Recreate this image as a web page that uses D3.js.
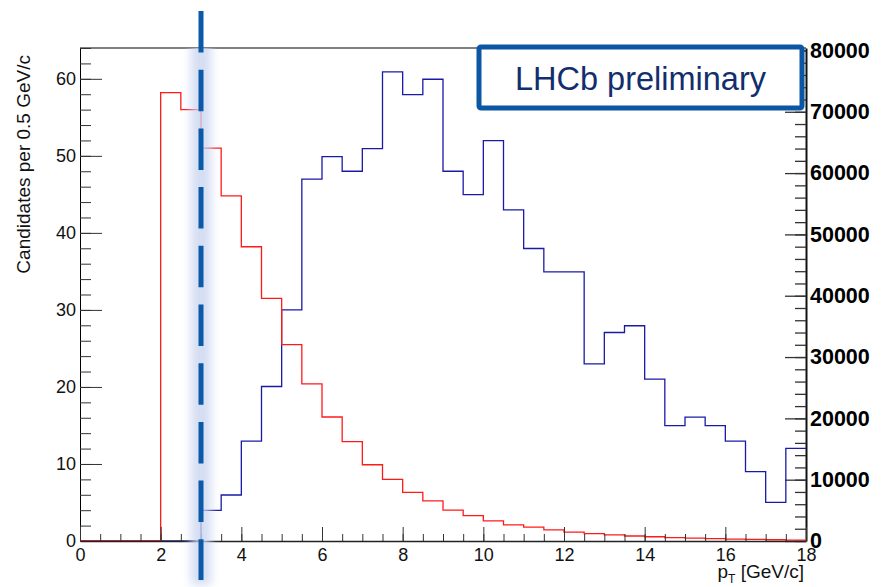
<!DOCTYPE html>
<html>
<head>
<meta charset="utf-8">
<script src="https://cdn.jsdelivr.net/npm/d3@7"></script>
<style>
  body { margin: 0; background: #fff; }
  svg { display: block; font-family: "Liberation Sans", Arial, Helvetica, sans-serif; }
</style>
</head>
<body>
<div id="chart"></div>
<script>
// bin lower edges, 0.5 GeV/c wide from 0 to 18
const binEdges = [0, 0.5, 1, 1.5, 2, 2.5, 3, 3.5, 4, 4.5, 5, 5.5, 6, 6.5, 7, 7.5, 8, 8.5,
    9, 9.5, 10, 10.5, 11, 11.5, 12, 12.5, 13, 13.5, 14, 14.5, 15, 15.5, 16, 16.5, 17, 17.5, 18];

// red histogram, left axis (candidates per 0.5 GeV/c)
const redCounts = [0, 0, 0, 0, 58.2, 56.0, 51.0, 44.8, 38.2, 31.5, 25.5, 20.4, 16.1, 12.9,
    9.9, 8.0, 6.3, 5.2, 4.0, 3.3, 2.6, 2.1, 1.8, 1.45, 1.15, 0.95, 0.8, 0.65, 0.55, 0.45,
    0.38, 0.3, 0.25, 0.2, 0.16, 0.12];

// blue histogram, right axis
const blueCounts = [0, 0, 0, 0, 0, 0, 5000, 7500, 16300, 25200, 37700, 59000, 62700, 60300,
    64000, 76500, 72800, 75300, 60300, 56500, 65300, 54000, 47700, 43900, 43900, 28900,
    34000, 35100, 26400, 18800, 20200, 18800, 16300, 11300, 6300, 15100];

const xTicks = [0, 2, 4, 6, 8, 10, 12, 14, 16, 18];
const leftTicks = [0, 10, 20, 30, 40, 50, 60];
const rightTicks = [0, 10000, 20000, 30000, 40000, 50000, 60000, 70000, 80000];
const cutValue = 3;
const labelText = 'LHCb preliminary';

const W = 887, H = 587;
const margin = { top: 48, right: 81, bottom: 46, left: 80 };
const innerW = W - margin.left - margin.right;
const innerH = H - margin.top - margin.bottom;

const svg = d3.select('#chart').append('svg')
    .attr('width', W)
    .attr('height', H);

const defs = svg.append('defs');
defs.append('filter')
    .attr('id', 'glow')
    .attr('filterUnits', 'userSpaceOnUse')
    .attr('x', 0).attr('y', 0)
    .attr('width', W).attr('height', H)
    .append('feGaussianBlur')
    .attr('stdDeviation', 5);

const g = svg.append('g')
    .attr('transform', `translate(${margin.left},${margin.top})`);

const x = d3.scaleLinear().domain([0, 18]).range([0, innerW]);
const yLeft = d3.scaleLinear().domain([0, 64]).range([innerH, 0]);
const yRight = d3.scaleLinear().domain([0, 80400]).range([innerH, 0]);

// frame top
g.append('line')
    .attr('x1', 0).attr('x2', innerW).attr('y1', 0).attr('y2', 0)
    .attr('stroke', '#000').attr('stroke-width', 1);

// left axis: minor then major
g.append('g')
    .call(d3.axisLeft(yLeft).tickValues(d3.range(0, 65, 2)).tickSizeInner(-11).tickSizeOuter(0).tickFormat(''))
    .call(a => a.selectAll('line').attr('stroke', '#333'))
    .call(a => a.select('.domain').attr('stroke', '#000'));
g.append('g')
    .call(d3.axisLeft(yLeft).tickValues(leftTicks).tickSizeInner(-22).tickSizeOuter(0).tickPadding(4))
    .call(a => a.select('.domain').remove())
    .call(a => a.selectAll('line').attr('stroke', '#333'))
    .call(a => a.selectAll('text').attr('font-size', 18).attr('fill', '#111')
        .attr('font-family', '"Liberation Sans", Arial, sans-serif'));

// right axis
g.append('g')
    .attr('transform', `translate(${innerW},0)`)
    .call(d3.axisRight(yRight).tickValues(d3.range(0, 80001, 2000)).tickSizeInner(-11).tickSizeOuter(0).tickFormat(''))
    .call(a => a.selectAll('line').attr('stroke', '#333').attr('stroke-width', 1.3))
    .call(a => a.select('.domain').attr('stroke', '#111').attr('stroke-width', 2));
g.append('g')
    .attr('transform', `translate(${innerW},0)`)
    .call(d3.axisRight(yRight).tickValues(rightTicks).tickSizeInner(-21).tickSizeOuter(0).tickPadding(4)
        .tickFormat(d3.format('d')))
    .call(a => a.select('.domain').remove())
    .call(a => a.selectAll('line').attr('stroke', '#333').attr('stroke-width', 1.3))
    .call(a => a.selectAll('text').attr('font-size', 21.5).attr('font-weight', 'bold').attr('fill', '#000')
        .attr('font-family', '"Liberation Sans", Arial, sans-serif'));

// histograms
const histPoints = counts => {
    const pts = counts.map((v, i) => [binEdges[i], v]);
    pts.push([binEdges[binEdges.length - 1], counts[counts.length - 1]]);
    return pts;
};

const blueLine = d3.line()
    .x(d => x(d[0]))
    .y(d => yRight(d[1]))
    .curve(d3.curveStepAfter);
const redLine = d3.line()
    .x(d => x(d[0]))
    .y(d => yLeft(d[1]))
    .curve(d3.curveStepAfter);

g.append('path')
    .datum(histPoints(blueCounts))
    .attr('d', blueLine)
    .attr('fill', 'none')
    .attr('stroke', '#1a1aa6')
    .attr('stroke-width', 1.3);

g.append('path')
    .datum(histPoints(redCounts))
    .attr('d', redLine)
    .attr('fill', 'none')
    .attr('stroke', '#ff1a1a')
    .attr('stroke-width', 1.3);

// bottom axis (drawn over histogram zero lines)
g.append('g')
    .attr('transform', `translate(0,${innerH})`)
    .call(d3.axisBottom(x).tickValues(d3.range(0, 18.01, 0.5)).tickSizeInner(-7).tickSizeOuter(0).tickFormat(''))
    .call(a => a.selectAll('line').attr('stroke', '#333'))
    .call(a => a.select('.domain').remove());
g.append('g')
    .attr('transform', `translate(0,${innerH})`)
    .call(d3.axisBottom(x).tickValues(xTicks).tickSizeInner(-14).tickSizeOuter(0).tickPadding(7))
    .call(a => a.select('.domain').attr('stroke', '#222').attr('stroke-width', 1.6))
    .call(a => a.selectAll('line').attr('stroke', '#333'))
    .call(a => a.selectAll('text').attr('font-size', 18).attr('fill', '#111')
        .attr('font-family', '"Liberation Sans", Arial, sans-serif'));

// axis titles
g.append('text')
    .attr('transform', `translate(${30 - margin.left},0) rotate(-90)`)
    .attr('x', -7)
    .attr('text-anchor', 'end')
    .attr('font-size', 19)
    .attr('fill', '#111')
    .text('Candidates per 0.5 GeV/c');

const xt = g.append('text')
    .attr('x', innerW - 2)
    .attr('y', innerH + 37)
    .attr('text-anchor', 'end')
    .attr('font-size', 19)
    .attr('fill', '#111');
xt.append('tspan').text('p');
xt.append('tspan').attr('font-size', 12).attr('dy', 5).text('T');
xt.append('tspan').attr('dy', -5).text(' [GeV/c]');

// cut line with glow
const cx = x(cutValue);
g.append('rect')
    .attr('x', cx - 10).attr('width', 20)
    .attr('y', -44).attr('height', innerH + 88)
    .attr('fill', '#c9d4f0')
    .attr('opacity', 0.8)
    .attr('filter', 'url(#glow)');
g.append('line')
    .attr('x1', cx).attr('x2', cx)
    .attr('y1', -37).attr('y2', innerH + 39)
    .attr('stroke', '#0b5aa8')
    .attr('stroke-width', 5)
    .attr('stroke-dasharray', '41.5 17.2');

// label box
const boxW = 323, boxH = 61;
const box = g.append('g').attr('transform', `translate(${innerW - 4 - boxW},0)`);
box.append('rect')
    .attr('x', 0).attr('y', -1)
    .attr('width', boxW).attr('height', boxH)
    .attr('rx', 2)
    .attr('fill', '#fff')
    .attr('stroke', '#0b57a4')
    .attr('stroke-width', 5);
box.append('text')
    .attr('x', boxW / 2)
    .attr('y', 42)
    .attr('text-anchor', 'middle')
    .attr('font-size', 32.5)
    .attr('fill', '#122e6c')
    .text(labelText);
</script>
</body>
</html>
